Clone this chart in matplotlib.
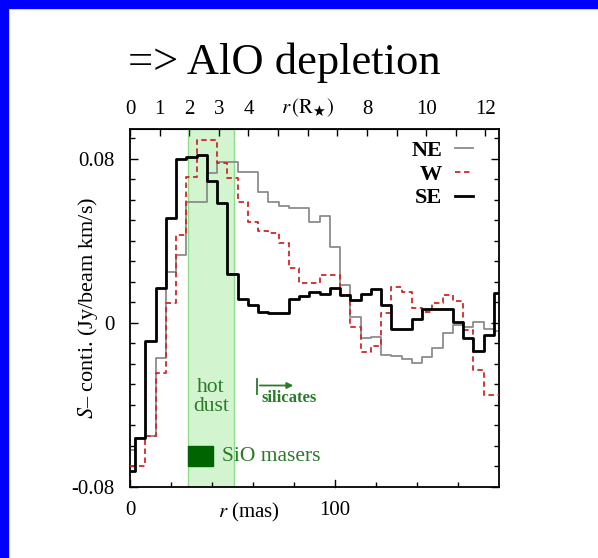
import numpy as np
import matplotlib
matplotlib.use('Agg')
import matplotlib.pyplot as plt
from matplotlib.patches import Rectangle
from matplotlib.ticker import MultipleLocator, FixedLocator

plt.rcParams['font.family'] = ['Liberation Serif', 'DejaVu Serif']
plt.rcParams['mathtext.fontset'] = 'stix'
plt.rcParams['axes.unicode_minus'] = False

# radius bins (mas), centres
r_mas = np.arange(0, 185, 5)

# NE (grey)
ne = [-0.062, -0.056, -0.055, -0.017, 0.025, 0.033, 0.059, 0.059, 0.073, 0.0785,
      0.0785, 0.0737, 0.0737, 0.064, 0.059, 0.057, 0.056, 0.056, 0.049, 0.052,
      0.037, 0.0185, 0.003, -0.0073, -0.0068, -0.0155, -0.016, -0.0176, -0.0195, -0.0166,
      -0.012, -0.005, -0.001, -0.002, 0.0005, -0.003, -0.004]
# W (red dashed)
w = [-0.070, -0.070, -0.055, -0.0244, 0.0098, 0.043, 0.071, 0.089, 0.089, 0.078,
     0.0707, 0.059, 0.049, 0.045, 0.044, 0.039, 0.027, 0.0195, 0.0195, 0.0234,
     0.0234, 0.0137, -0.002, -0.014, -0.011, 0.005, 0.0176, 0.015, 0.0073, 0.0054,
     0.0098, 0.0137, 0.0107, -0.0034, -0.023, -0.035, -0.035]
# SE (black)
se = [-0.072, -0.056, -0.009, 0.017, 0.051, 0.080, 0.081, 0.082, 0.069, 0.0585,
      0.024, 0.0117, 0.0088, 0.0054, 0.005, 0.005, 0.0117, 0.013, 0.015, 0.014,
      0.017, 0.0137, 0.0112, 0.014, 0.0166, 0.0088, -0.003, -0.003, 0.002, 0.007,
      0.007, 0.007, 0.0005, -0.0073, -0.0137, -0.0059, 0.0146]

mas_per_rstar = 14.45
hot_dust = (28.5, 50.5)
sio_box = (28.5, 40.5, -0.070, -0.060)
top_ticks = list(range(0, 13))
top_labels = ['0', '1', '2', '3', '4', '', r'$r\,(\mathrm{R}_{\bigstar})$', '', '8', '', '10', '', '12']

fig = plt.figure(figsize=(5.98, 5.58), dpi=100)

# slide frame (blue strips top and left)
fig.patches.append(Rectangle((0, 0), 7.5 / 598, 1, transform=fig.transFigure, color='#0000ff', zorder=0))
fig.patches.append(Rectangle((0, 1 - 8 / 558), 1, 8 / 558, transform=fig.transFigure, color='#0000ff', zorder=0))

fig.text(0.475, 1 - 74 / 558, '=> AlO depletion', ha='center', va='baseline', fontsize=32)

ax = fig.add_axes([130 / 598, 1 - 487 / 558, 369 / 598, 358 / 558])

# hot dust band
ax.axvspan(*hot_dust, facecolor='#d2f5d0', edgecolor='none', zorder=0)
for xe in hot_dust:
    ax.axvline(xe, color='#8fdc8c', lw=1.0, zorder=0.5)

ax.step(r_mas, ne, where='mid', color='#8c8c8c', lw=1.3, label='NE', zorder=2)
ax.step(r_mas, w, where='mid', color='#cc2a2a', lw=1.3, dashes=(3, 2), label='W', zorder=3)
ax.step(r_mas, se, where='mid', color='black', lw=2.0, label='SE', zorder=4)

# annotations
green = '#2a7a2a'
x0, x1, y0, y1 = sio_box
ax.add_patch(Rectangle((x0, y0), x1 - x0, y1 - y0, color='#006400', zorder=3))
ax.text(45, (y0 + y1) / 2, 'SiO masers', color=green, fontsize=15.5, va='center', ha='left')
ax.text(39.5, -0.036, 'hot\ndust', color=green, fontsize=15.5, ha='center', va='center', linespacing=1.0)
ax.plot([62, 62], [-0.0275, -0.0345], color=green, lw=1.3)
ax.annotate('', xy=(81, -0.0305), xytext=(62, -0.0305),
            arrowprops=dict(arrowstyle='-|>', color=green, lw=1.3, mutation_scale=9))
ax.text(77.5, -0.0368, 'silicates', color=green, fontsize=12, ha='center', va='center', fontweight='bold')

ax.set_xlim(0, 180)
ax.set_ylim(-0.08, 0.0946)

ax.xaxis.set_major_locator(FixedLocator([0, 58, 100]))
ax.set_xticklabels(['0', r'$r$ (mas)', '100'])
ax.xaxis.set_minor_locator(FixedLocator([20, 40, 60, 80, 120, 140, 160]))
ax.yaxis.set_major_locator(FixedLocator([-0.08, 0, 0.08]))
ax.set_yticklabels(['-0.08', '0', '0.08'])
ax.yaxis.set_minor_locator(MultipleLocator(0.01))
ax.tick_params(which='both', direction='in', top=False, right=True, labelsize=15, width=1.0)
ax.tick_params(which='major', length=6)
ax.tick_params(which='minor', length=3.5)
ax.tick_params(axis='x', which='major', length=0, pad=10)
ax.tick_params(axis='y', pad=11)
for s in ax.spines.values():
    s.set_linewidth(1.3)
# long ticks at 0 and 100 only
for xt in (0, 100):
    ax.plot([xt, xt], [-0.08, -0.0765], color='black', lw=1.0, clip_on=False, zorder=5)

sec = ax.secondary_xaxis('top', functions=(lambda m: m / mas_per_rstar, lambda r: r * mas_per_rstar))
sec.set_xticks(top_ticks)
sec.set_xticklabels(top_labels)
sec.tick_params(direction='in', length=5, width=1.0, labelsize=15, pad=7)

ax.set_ylabel(r'$S$– conti. (Jy/beam km/s)', fontsize=16)
ax.yaxis.set_label_coords(-0.08, 0.5)

leg = ax.legend(loc='upper right', bbox_to_anchor=(0.93, 0.968), frameon=False, markerfirst=False,
                handlelength=0.8, handletextpad=0.6, labelspacing=0.14, borderpad=0, borderaxespad=0,
                prop={'size': 16, 'weight': 'bold'})

fig.savefig('out.png', dpi=100)
